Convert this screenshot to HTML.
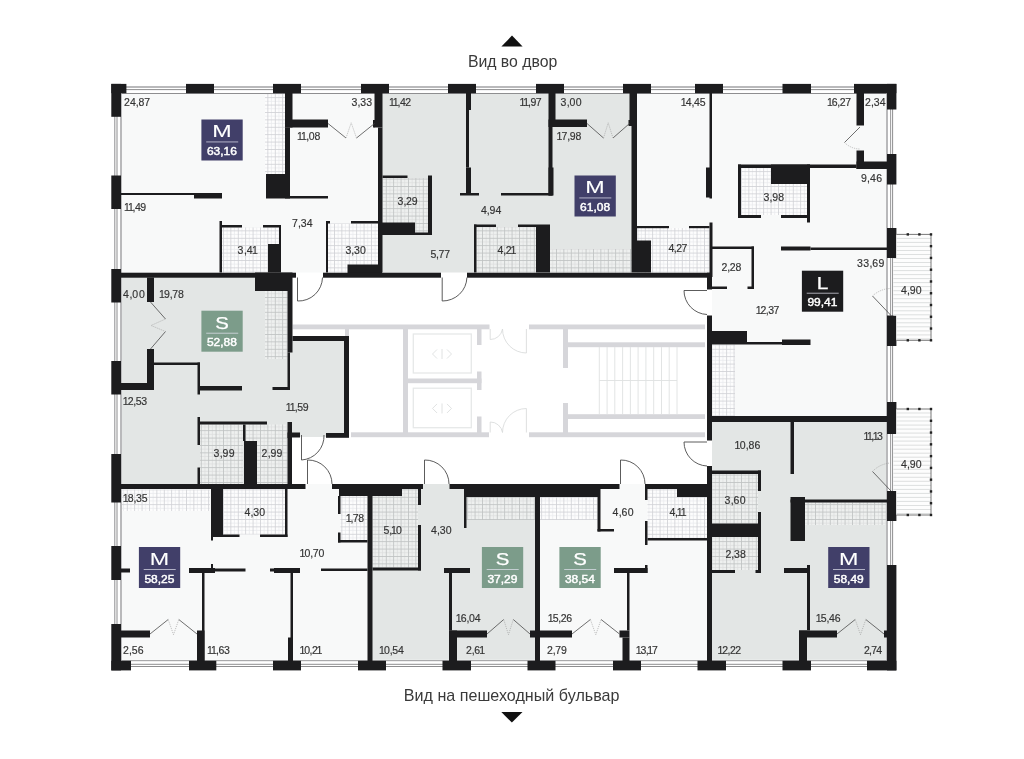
<!DOCTYPE html>
<html><head><meta charset="utf-8"><title>Plan</title>
<style>
html,body{margin:0;padding:0;background:#fff;}
body{width:1024px;height:759px;overflow:hidden;font-family:"Liberation Sans",sans-serif;}
svg{display:block;font-family:"Liberation Sans",sans-serif;}
</style></head><body>
<svg width="1024" height="759" viewBox="0 0 1024 759">
<defs>
<pattern id="tL" width="7.4" height="7.4" patternUnits="userSpaceOnUse" x="1" y="1"><rect width="7.4" height="7.4" fill="#fdfdfd"/><path d="M0,4.1 H7.4 M4.1,0 V7.4" stroke="#e9eaec" stroke-width="0.8" fill="none"/><path d="M0,0.4 H7.4 M0.4,0 V7.4" stroke="#d0d1d6" stroke-width="0.9" fill="none"/></pattern>
<pattern id="tS" width="7.4" height="7.4" patternUnits="userSpaceOnUse" x="1" y="1"><rect width="7.4" height="7.4" fill="#eef0ef"/><path d="M0,4.1 H7.4 M4.1,0 V7.4" stroke="#dcdfde" stroke-width="0.8" fill="none"/><path d="M0,0.4 H7.4 M0.4,0 V7.4" stroke="#bfc2c2" stroke-width="0.9" fill="none"/></pattern>
</defs>
<rect width="1024" height="759" fill="#ffffff"/>
<rect x="121" y="93" width="257" height="179.5" fill="#f8f9f9"/>
<rect x="382" y="93" width="250" height="179.5" fill="#e3e6e5"/>
<rect x="637" y="93" width="250" height="179.5" fill="#f8f9f9"/>
<rect x="712" y="272" width="175" height="144" fill="#f8f9f9"/>
<rect x="121" y="277" width="167" height="207" fill="#e3e6e5"/>
<rect x="287" y="341" width="57" height="93" fill="#e3e6e5"/>
<rect x="300" y="434" width="26" height="3" fill="#e3e6e5"/>
<rect x="121" y="489" width="247" height="172" fill="#f8f9f9"/>
<rect x="307.5" y="484" width="24.5" height="5" fill="#f8f9f9"/>
<rect x="372" y="489" width="163" height="172" fill="#e3e6e5"/>
<rect x="423" y="484" width="27" height="5" fill="#e3e6e5"/>
<rect x="540" y="489" width="167" height="172" fill="#f8f9f9"/>
<rect x="619.5" y="484" width="25.5" height="5" fill="#f8f9f9"/>
<rect x="712" y="422" width="175" height="239" fill="#e3e6e5"/>
<rect x="265" y="93" width="20" height="81" fill="url(#tL)"/>
<rect x="222" y="227.5" width="57" height="45" fill="url(#tL)"/>
<rect x="328" y="223.5" width="50" height="49" fill="url(#tL)"/>
<rect x="382.5" y="178" width="45.5" height="54.5" fill="url(#tS)"/>
<rect x="476.5" y="227" width="59.5" height="45.5" fill="url(#tS)"/>
<rect x="550" y="249" width="81.5" height="23.5" fill="url(#tS)"/>
<rect x="637" y="228" width="72.5" height="44.5" fill="url(#tL)"/>
<rect x="741" y="168" width="66" height="47" fill="url(#tL)"/>
<rect x="712" y="344.5" width="23" height="71.5" fill="url(#tL)"/>
<rect x="265" y="291" width="22.5" height="68" fill="url(#tS)"/>
<rect x="200" y="424.5" width="43" height="59.5" fill="url(#tS)"/>
<rect x="245.5" y="424.5" width="42" height="59.5" fill="url(#tS)"/>
<rect x="122" y="489.5" width="88" height="21.5" fill="url(#tL)"/>
<rect x="223" y="489" width="62" height="45.5" fill="url(#tL)"/>
<rect x="340.5" y="496" width="27" height="44" fill="url(#tL)"/>
<rect x="372.5" y="489" width="45.5" height="78.5" fill="url(#tS)"/>
<rect x="466.5" y="497" width="68.5" height="23" fill="url(#tS)"/>
<rect x="540" y="497" width="57.5" height="23" fill="url(#tL)"/>
<rect x="647.5" y="489" width="59.5" height="49" fill="url(#tL)"/>
<rect x="712" y="474" width="46" height="49.5" fill="url(#tS)"/>
<rect x="712" y="537" width="46" height="33" fill="url(#tS)"/>
<rect x="805" y="502.5" width="81" height="22.5" fill="url(#tS)"/>
<rect x="113" y="85" width="782" height="9" fill="#ffffff"/>
<rect x="113" y="659.8" width="782" height="8.2" fill="#ffffff"/>
<rect x="113" y="85" width="9" height="583" fill="#ffffff"/>
<rect x="886" y="85" width="9" height="583" fill="#ffffff"/>
<rect x="121" y="86.2" width="766" height="1.6" fill="#a9a9ab"/>
<rect x="121" y="89.1" width="766" height="1" fill="#8e8e90"/>
<rect x="121" y="93" width="766" height="1" fill="#8e8e90"/>
<rect x="121" y="660" width="766" height="1.2" fill="#a9a9ab"/>
<rect x="121" y="663.8" width="766" height="1" fill="#8e8e90"/>
<rect x="121" y="666" width="766" height="1" fill="#8e8e90"/>
<rect x="114.3" y="93" width="1" height="568" fill="#8e8e90"/>
<rect x="116.5" y="93" width="1" height="568" fill="#8e8e90"/>
<rect x="120.2" y="93" width="1.6" height="568" fill="#a9a9ab"/>
<rect x="886.2" y="93" width="1.6" height="568" fill="#a9a9ab"/>
<rect x="890.2" y="93" width="0.9" height="568" fill="#8e8e90"/>
<rect x="892.1" y="93" width="1" height="568" fill="#8e8e90"/>
<rect x="292.5" y="324.5" width="197" height="4.8" fill="#d6d6da"/>
<rect x="529" y="324.5" width="176" height="4.8" fill="#d6d6da"/>
<rect x="345" y="329" width="4" height="8" fill="#d6d6da"/>
<rect x="403" y="329" width="5" height="107" fill="#d6d6da"/>
<rect x="408" y="378.5" width="73.5" height="4.7" fill="#d6d6da"/>
<rect x="351" y="432.3" width="138" height="4.9" fill="#d6d6da"/>
<rect x="529" y="432.3" width="176" height="4.9" fill="#d6d6da"/>
<rect x="477" y="329" width="4.5" height="16" fill="#d6d6da"/>
<rect x="477" y="371.5" width="4.5" height="18.5" fill="#d6d6da"/>
<rect x="477" y="416.5" width="4.5" height="16.5" fill="#d6d6da"/>
<rect x="563" y="329" width="5" height="39" fill="#d6d6da"/>
<rect x="568" y="342.3" width="137" height="4.9" fill="#d6d6da"/>
<rect x="563" y="403" width="5" height="30" fill="#d6d6da"/>
<rect x="568" y="414.2" width="137" height="4.8" fill="#d6d6da"/>
<rect x="413.3" y="334" width="58" height="39" fill="#ffffff" stroke="#e6e8e8" stroke-width="1.3"/>
<path d="M437,349.5 l-4.5,4.5 l4.5,4.5 M447,349.5 l4.5,4.5 l-4.5,4.5 M442,349.0 v10" stroke="#dddfdf" stroke-width="0.9" fill="none"/>
<rect x="413.3" y="388.2" width="58" height="39.5" fill="#ffffff" stroke="#e6e8e8" stroke-width="1.3"/>
<path d="M437,403.95 l-4.5,4.5 l4.5,4.5 M447,403.95 l4.5,4.5 l-4.5,4.5 M442,403.45 v10" stroke="#dddfdf" stroke-width="0.9" fill="none"/>
<path d="M599.3,347 V414 M607.1,347 V414 M614.8,347 V414 M622.6,347 V414 M630.4,347 V414 M638.1,347 V414 M645.9,347 V414 M653.7,347 V414 M661.5,347 V414 M669.2,347 V414 M677.0,347 V414 M599.3,380.5 H677" stroke="#dfe1e1" stroke-width="0.9" fill="none"/>
<path d="M490.2,329 V339.5 M490.2,339.5 A12.3,12.3 0 0 0 502.5,329 M526.4,329 V353 M526.4,353 A24,24 0 0 1 502.5,329" stroke="#d6d8d8" stroke-width="0.8" fill="none"/>
<path d="M490.2,432.5 V422 M490.2,422 A12.3,12.3 0 0 1 502.5,432.5 M526.4,432.5 V408.5 M526.4,408.5 A24,24 0 0 0 502.5,432.5" stroke="#d6d8d8" stroke-width="0.8" fill="none"/>
<rect x="111.3" y="83.9" width="15.1" height="9.3" fill="#1c1c1e"/>
<rect x="111.3" y="83.9" width="9.7" height="32.9" fill="#1c1c1e"/>
<rect x="186" y="83.9" width="28" height="9.3" fill="#1c1c1e"/>
<rect x="273" y="83.9" width="28" height="9.3" fill="#1c1c1e"/>
<rect x="361" y="83.9" width="28" height="9.3" fill="#1c1c1e"/>
<rect x="448" y="83.9" width="28" height="9.3" fill="#1c1c1e"/>
<rect x="536" y="83.9" width="28" height="9.3" fill="#1c1c1e"/>
<rect x="623" y="83.9" width="28" height="9.3" fill="#1c1c1e"/>
<rect x="695" y="83.9" width="28" height="9.3" fill="#1c1c1e"/>
<rect x="782.5" y="83.9" width="28.5" height="9.3" fill="#1c1c1e"/>
<rect x="854" y="83.9" width="42.4" height="9.3" fill="#1c1c1e"/>
<rect x="887" y="83.9" width="9.4" height="25.6" fill="#1c1c1e"/>
<rect x="111.3" y="624" width="9.7" height="46.4" fill="#1c1c1e"/>
<rect x="111.3" y="660.8" width="19.7" height="9.6" fill="#1c1c1e"/>
<rect x="189" y="660.8" width="27.3" height="9.6" fill="#1c1c1e"/>
<rect x="273" y="660.8" width="28" height="9.6" fill="#1c1c1e"/>
<rect x="358" y="660.8" width="28" height="9.6" fill="#1c1c1e"/>
<rect x="442.5" y="660.8" width="28.5" height="9.6" fill="#1c1c1e"/>
<rect x="527.5" y="660.8" width="28" height="9.6" fill="#1c1c1e"/>
<rect x="613" y="660.8" width="28" height="9.6" fill="#1c1c1e"/>
<rect x="697.5" y="660.8" width="28.5" height="9.6" fill="#1c1c1e"/>
<rect x="782.5" y="660.8" width="28.5" height="9.6" fill="#1c1c1e"/>
<rect x="867" y="660.8" width="29.4" height="9.6" fill="#1c1c1e"/>
<rect x="887" y="565" width="9.4" height="105.4" fill="#1c1c1e"/>
<rect x="111.3" y="175.5" width="9.7" height="33.5" fill="#1c1c1e"/>
<rect x="111.3" y="269" width="9.7" height="33.5" fill="#1c1c1e"/>
<rect x="111.3" y="361" width="9.7" height="33.5" fill="#1c1c1e"/>
<rect x="111.3" y="454" width="9.7" height="48.5" fill="#1c1c1e"/>
<rect x="111.3" y="546" width="9.7" height="34" fill="#1c1c1e"/>
<rect x="887" y="154" width="9.4" height="30.5" fill="#1c1c1e"/>
<rect x="887" y="228" width="9.4" height="30" fill="#1c1c1e"/>
<rect x="887" y="315.5" width="9.4" height="30.5" fill="#1c1c1e"/>
<rect x="887" y="402" width="9.4" height="32" fill="#1c1c1e"/>
<rect x="887" y="491" width="9.4" height="30" fill="#1c1c1e"/>
<rect x="285" y="93" width="7.5" height="34.5" fill="#1c1c1e"/>
<rect x="285" y="119.5" width="43" height="8" fill="#1c1c1e"/>
<rect x="285" y="127.5" width="5" height="71" fill="#1c1c1e"/>
<rect x="266" y="174" width="24" height="24.5" fill="#1c1c1e"/>
<rect x="290" y="196" width="38" height="2.5" fill="#1c1c1e"/>
<rect x="121" y="193" width="101" height="2" fill="#1c1c1e"/>
<rect x="194" y="193" width="28" height="5.5" fill="#1c1c1e"/>
<rect x="219.5" y="221" width="2.5" height="51.5" fill="#1c1c1e"/>
<rect x="222" y="225" width="20" height="2.5" fill="#1c1c1e"/>
<rect x="263" y="225" width="18" height="2.5" fill="#1c1c1e"/>
<rect x="279" y="225" width="2" height="20" fill="#1c1c1e"/>
<rect x="268" y="244" width="13" height="28.5" fill="#1c1c1e"/>
<rect x="326" y="221" width="2" height="51.5" fill="#1c1c1e"/>
<rect x="326" y="221" width="4" height="2.5" fill="#1c1c1e"/>
<rect x="351" y="221" width="27" height="2.5" fill="#1c1c1e"/>
<rect x="347.5" y="264.5" width="34.5" height="8.5" fill="#1c1c1e"/>
<rect x="374.5" y="93" width="8" height="34.5" fill="#1c1c1e"/>
<rect x="373" y="120" width="2" height="7.5" fill="#1c1c1e"/>
<rect x="378" y="127.5" width="4.5" height="145" fill="#1c1c1e"/>
<rect x="121" y="272.7" width="175" height="5" fill="#1c1c1e"/>
<rect x="323" y="272.7" width="118" height="5" fill="#1c1c1e"/>
<rect x="466" y="93" width="5" height="17" fill="#1c1c1e"/>
<rect x="466" y="110" width="3" height="57.5" fill="#1c1c1e"/>
<rect x="466" y="167.5" width="5" height="27.5" fill="#1c1c1e"/>
<rect x="460" y="193" width="19" height="2.5" fill="#1c1c1e"/>
<rect x="501" y="193" width="51.5" height="2.5" fill="#1c1c1e"/>
<rect x="548.5" y="93" width="7" height="34" fill="#1c1c1e"/>
<rect x="548.5" y="119.5" width="38.5" height="7.5" fill="#1c1c1e"/>
<rect x="548.5" y="127" width="4" height="68.5" fill="#1c1c1e"/>
<rect x="548.5" y="167.5" width="5" height="28" fill="#1c1c1e"/>
<rect x="382.5" y="175.5" width="25" height="2.5" fill="#1c1c1e"/>
<rect x="428" y="175.5" width="4" height="59.5" fill="#1c1c1e"/>
<rect x="415" y="232.5" width="17" height="2.5" fill="#1c1c1e"/>
<rect x="379.5" y="222.5" width="35.5" height="12.5" fill="#1c1c1e"/>
<rect x="474" y="224.5" width="2.5" height="48" fill="#1c1c1e"/>
<rect x="474" y="224.5" width="22" height="2.5" fill="#1c1c1e"/>
<rect x="518" y="224.5" width="18" height="2.5" fill="#1c1c1e"/>
<rect x="536" y="224.5" width="14" height="48" fill="#1c1c1e"/>
<rect x="467" y="272.7" width="240" height="5" fill="#1c1c1e"/>
<rect x="629.5" y="93" width="7.5" height="33" fill="#1c1c1e"/>
<rect x="628.5" y="120" width="1.5" height="6" fill="#1c1c1e"/>
<rect x="631.5" y="126" width="5.5" height="146.5" fill="#1c1c1e"/>
<rect x="637" y="226" width="32" height="2.2" fill="#1c1c1e"/>
<rect x="689" y="226" width="20.5" height="2.2" fill="#1c1c1e"/>
<rect x="637" y="240.5" width="14" height="32" fill="#1c1c1e"/>
<rect x="709.5" y="93" width="2.5" height="105.5" fill="#1c1c1e"/>
<rect x="706" y="167.5" width="6" height="30" fill="#1c1c1e"/>
<rect x="709.5" y="222.5" width="3" height="54.5" fill="#1c1c1e"/>
<rect x="707" y="272.5" width="5" height="17" fill="#1c1c1e"/>
<rect x="712" y="246.5" width="42" height="2.5" fill="#1c1c1e"/>
<rect x="751.5" y="246.5" width="2.5" height="42.5" fill="#1c1c1e"/>
<rect x="712" y="286.5" width="15" height="2.5" fill="#1c1c1e"/>
<rect x="747.5" y="286.5" width="6.5" height="2.5" fill="#1c1c1e"/>
<rect x="738" y="164.5" width="3" height="53.5" fill="#1c1c1e"/>
<rect x="738" y="164.5" width="118.5" height="3.5" fill="#1c1c1e"/>
<rect x="771" y="164.5" width="39" height="19.5" fill="#1c1c1e"/>
<rect x="807" y="164.5" width="3" height="58" fill="#1c1c1e"/>
<rect x="738" y="215" width="23" height="3" fill="#1c1c1e"/>
<rect x="781" y="215" width="29" height="3" fill="#1c1c1e"/>
<rect x="856.5" y="93" width="7.5" height="32.5" fill="#1c1c1e"/>
<rect x="856.5" y="150.5" width="7.5" height="18.5" fill="#1c1c1e"/>
<rect x="856.5" y="161.5" width="39.5" height="7.5" fill="#1c1c1e"/>
<rect x="781" y="246.5" width="29.5" height="4" fill="#1c1c1e"/>
<rect x="810.5" y="247.5" width="76.5" height="2.5" fill="#1c1c1e"/>
<rect x="707" y="315.5" width="5" height="125" fill="#1c1c1e"/>
<rect x="707" y="466" width="5" height="195" fill="#1c1c1e"/>
<rect x="712" y="331" width="35" height="13.5" fill="#1c1c1e"/>
<rect x="747" y="342" width="35.5" height="2.5" fill="#1c1c1e"/>
<rect x="782" y="339.5" width="28.5" height="5.5" fill="#1c1c1e"/>
<rect x="712" y="416" width="175" height="6" fill="#1c1c1e"/>
<rect x="147" y="277.5" width="7" height="24.5" fill="#1c1c1e"/>
<rect x="147" y="349" width="7" height="41" fill="#1c1c1e"/>
<rect x="112" y="383" width="42" height="7" fill="#1c1c1e"/>
<rect x="255" y="272.5" width="37.5" height="18.5" fill="#1c1c1e"/>
<rect x="287.5" y="291" width="5" height="61.5" fill="#1c1c1e"/>
<rect x="287.5" y="352.5" width="2.5" height="37.5" fill="#1c1c1e"/>
<rect x="272.5" y="387" width="17.5" height="3" fill="#1c1c1e"/>
<rect x="292.5" y="336" width="56.5" height="5" fill="#1c1c1e"/>
<rect x="344" y="336" width="5" height="101" fill="#1c1c1e"/>
<rect x="326" y="433" width="23" height="4.8" fill="#1c1c1e"/>
<rect x="154" y="362.5" width="46" height="2.5" fill="#1c1c1e"/>
<rect x="197.5" y="362.5" width="2.5" height="32" fill="#1c1c1e"/>
<rect x="200" y="386" width="42" height="4.5" fill="#1c1c1e"/>
<rect x="197.5" y="417" width="2.5" height="28" fill="#1c1c1e"/>
<rect x="197.5" y="467.5" width="2.5" height="16.5" fill="#1c1c1e"/>
<rect x="200" y="421.5" width="67" height="3" fill="#1c1c1e"/>
<rect x="243" y="424.5" width="2.5" height="16.5" fill="#1c1c1e"/>
<rect x="244" y="441" width="13" height="43" fill="#1c1c1e"/>
<rect x="287.5" y="422" width="4.5" height="62" fill="#1c1c1e"/>
<rect x="287.5" y="432.5" width="12.5" height="5.5" fill="#1c1c1e"/>
<rect x="121" y="484" width="184.5" height="5" fill="#1c1c1e"/>
<rect x="211" y="489" width="12" height="48" fill="#1c1c1e"/>
<rect x="211" y="537" width="2" height="3.5" fill="#1c1c1e"/>
<rect x="285" y="489" width="2.5" height="48" fill="#1c1c1e"/>
<rect x="223" y="534.5" width="16.5" height="2.5" fill="#1c1c1e"/>
<rect x="260" y="534.5" width="27.5" height="2.5" fill="#1c1c1e"/>
<rect x="338" y="496" width="2.5" height="18" fill="#1c1c1e"/>
<rect x="338" y="532.5" width="2.5" height="10" fill="#1c1c1e"/>
<rect x="338" y="540" width="29.5" height="2.5" fill="#1c1c1e"/>
<rect x="121" y="568.5" width="9" height="4" fill="#1c1c1e"/>
<rect x="189" y="568" width="26" height="5" fill="#1c1c1e"/>
<rect x="215" y="568.5" width="30.5" height="3" fill="#1c1c1e"/>
<rect x="270" y="568.5" width="30" height="3" fill="#1c1c1e"/>
<rect x="274" y="568" width="26" height="5" fill="#1c1c1e"/>
<rect x="321" y="568.5" width="46.5" height="2.5" fill="#1c1c1e"/>
<rect x="211" y="564" width="2" height="5" fill="#1c1c1e"/>
<rect x="202" y="571" width="2.5" height="90" fill="#1c1c1e"/>
<rect x="197" y="630.5" width="7.5" height="30.5" fill="#1c1c1e"/>
<rect x="121" y="630.5" width="29" height="7" fill="#1c1c1e"/>
<rect x="290.5" y="571" width="2.5" height="90" fill="#1c1c1e"/>
<rect x="288" y="637.5" width="5" height="23.5" fill="#1c1c1e"/>
<rect x="367.5" y="496" width="5" height="165" fill="#1c1c1e"/>
<rect x="332" y="484" width="91" height="5" fill="#1c1c1e"/>
<rect x="339" y="489" width="63" height="7" fill="#1c1c1e"/>
<rect x="418" y="489" width="3" height="16" fill="#1c1c1e"/>
<rect x="418" y="525" width="3" height="45.5" fill="#1c1c1e"/>
<rect x="372.5" y="567.5" width="48.5" height="3" fill="#1c1c1e"/>
<rect x="464" y="497" width="2.5" height="31" fill="#1c1c1e"/>
<rect x="449.5" y="484" width="150.5" height="5" fill="#1c1c1e"/>
<rect x="464" y="484" width="136" height="13" fill="#1c1c1e"/>
<rect x="535" y="497" width="5" height="164" fill="#1c1c1e"/>
<rect x="444" y="568" width="26" height="5" fill="#1c1c1e"/>
<rect x="449" y="573" width="3" height="57.5" fill="#1c1c1e"/>
<rect x="449" y="630.5" width="8" height="30.5" fill="#1c1c1e"/>
<rect x="449" y="630.5" width="38" height="7" fill="#1c1c1e"/>
<rect x="530" y="630.5" width="42" height="7" fill="#1c1c1e"/>
<rect x="597.5" y="489" width="3" height="42.5" fill="#1c1c1e"/>
<rect x="597.5" y="529" width="16.5" height="2.5" fill="#1c1c1e"/>
<rect x="600" y="484" width="19.5" height="5" fill="#1c1c1e"/>
<rect x="645" y="484" width="62" height="5" fill="#1c1c1e"/>
<rect x="677" y="484" width="30" height="13" fill="#1c1c1e"/>
<rect x="645" y="489" width="2.5" height="11" fill="#1c1c1e"/>
<rect x="645" y="521" width="2.5" height="24" fill="#1c1c1e"/>
<rect x="645" y="565" width="2.5" height="8" fill="#1c1c1e"/>
<rect x="647.5" y="538" width="59.5" height="2.5" fill="#1c1c1e"/>
<rect x="614" y="568" width="33.5" height="5" fill="#1c1c1e"/>
<rect x="627" y="573" width="2.5" height="57.5" fill="#1c1c1e"/>
<rect x="619.5" y="630.5" width="10" height="7" fill="#1c1c1e"/>
<rect x="622.5" y="637.5" width="7" height="23.5" fill="#1c1c1e"/>
<rect x="790.5" y="422" width="3.5" height="52" fill="#1c1c1e"/>
<rect x="712" y="470.5" width="49" height="3.5" fill="#1c1c1e"/>
<rect x="758" y="470.5" width="3" height="20.5" fill="#1c1c1e"/>
<rect x="758" y="512" width="3" height="61" fill="#1c1c1e"/>
<rect x="712" y="523.5" width="48" height="13.5" fill="#1c1c1e"/>
<rect x="712" y="570" width="23" height="3" fill="#1c1c1e"/>
<rect x="755.5" y="570" width="5.5" height="3" fill="#1c1c1e"/>
<rect x="790.5" y="497" width="14.5" height="44" fill="#1c1c1e"/>
<rect x="790.5" y="499.5" width="96.5" height="3" fill="#1c1c1e"/>
<rect x="784" y="568" width="26" height="5" fill="#1c1c1e"/>
<rect x="807" y="565" width="3" height="65.5" fill="#1c1c1e"/>
<rect x="799" y="630.5" width="8" height="30.5" fill="#1c1c1e"/>
<rect x="799" y="630.5" width="38" height="7" fill="#1c1c1e"/>
<rect x="884" y="630.5" width="3" height="7" fill="#1c1c1e"/>
<rect x="292" y="437.5" width="15.5" height="46.5" fill="#ffffff"/>
<path d="M297.5,277.5 V301 M297.5,301 A24,24 0 0 0 322.5,277.5" stroke="#4a4a4a" stroke-width="0.9" fill="none"/>
<path d="M442.2,277.5 V301 M442.2,301 A24.5,24 0 0 0 466.9,277.5" stroke="#4a4a4a" stroke-width="0.9" fill="none"/>
<path d="M707,290.5 H684 M684,290.5 A24,24 0 0 0 707,314.5" stroke="#4a4a4a" stroke-width="0.9" fill="none"/>
<path d="M707,442 H684 M684,442 A24,24 0 0 0 707,466" stroke="#4a4a4a" stroke-width="0.9" fill="none"/>
<path d="M301.5,435 V460 M301.5,460 A24,24 0 0 0 324,435" stroke="#4a4a4a" stroke-width="0.9" fill="none"/>
<path d="M307.5,484 V460 M307.5,460 A24,24 0 0 1 332,484" stroke="#4a4a4a" stroke-width="0.9" fill="none"/>
<path d="M424.5,484 V460 M424.5,460 A24,24 0 0 1 449,484" stroke="#4a4a4a" stroke-width="0.9" fill="none"/>
<path d="M620.5,484 V460 M620.5,460 A24,24 0 0 1 645,484" stroke="#4a4a4a" stroke-width="0.9" fill="none"/>
<path d="M328,123.5 L346.0,138.0 M374.5,123.5 L356.5,138.0" stroke="#4a4a4a" stroke-width="0.8" fill="none"/>
<path d="M346.0,138.0 L351.2,122.8 L356.5,138.0" stroke="#9a9a9a" stroke-width="0.6" fill="none" stroke-dasharray="1.2,1"/>
<path d="M587,123.5 L603.5,138.0 M629.5,123.5 L613.0,138.0" stroke="#4a4a4a" stroke-width="0.8" fill="none"/>
<path d="M603.5,138.0 L608.2,122.8 L613.0,138.0" stroke="#9a9a9a" stroke-width="0.6" fill="none" stroke-dasharray="1.2,1"/>
<path d="M150,634 L168.2,619.5 M197,634 L178.8,619.5" stroke="#4a4a4a" stroke-width="0.8" fill="none"/>
<path d="M168.2,619.5 L173.5,634.7 L178.8,619.5" stroke="#9a9a9a" stroke-width="0.6" fill="none" stroke-dasharray="1.2,1"/>
<path d="M487,634 L503.7,619.5 M530,634 L513.3,619.5" stroke="#4a4a4a" stroke-width="0.8" fill="none"/>
<path d="M503.7,619.5 L508.5,634.7 L513.3,619.5" stroke="#9a9a9a" stroke-width="0.6" fill="none" stroke-dasharray="1.2,1"/>
<path d="M572,634 L590.4,619.5 M619.5,634 L601.1,619.5" stroke="#4a4a4a" stroke-width="0.8" fill="none"/>
<path d="M590.4,619.5 L595.8,634.7 L601.1,619.5" stroke="#9a9a9a" stroke-width="0.6" fill="none" stroke-dasharray="1.2,1"/>
<path d="M837,634 L855.2,619.5 M884,634 L865.8,619.5" stroke="#4a4a4a" stroke-width="0.8" fill="none"/>
<path d="M855.2,619.5 L860.5,634.7 L865.8,619.5" stroke="#9a9a9a" stroke-width="0.6" fill="none" stroke-dasharray="1.2,1"/>
<path d="M150.5,302 L165.5,319 M150.5,349 L165.5,331.5" stroke="#4a4a4a" stroke-width="0.8" fill="none"/>
<path d="M165.5,319 L151,325.5 L165.5,331.5" stroke="#9a9a9a" stroke-width="0.6" fill="none" stroke-dasharray="1.2,1"/>
<path d="M860,127 L844.5,142.5" stroke="#4a4a4a" stroke-width="0.8" fill="none"/>
<path d="M844.5,142.5 A22,22 0 0 0 860,149" stroke="#9a9a9a" stroke-width="0.6" fill="none" stroke-dasharray="1.2,1"/>
<path d="M891,315.5 L872.5,296" stroke="#4a4a4a" stroke-width="0.8" fill="none"/>
<path d="M872.5,296 A27,27 0 0 1 891,288.5" stroke="#9a9a9a" stroke-width="0.6" fill="none" stroke-dasharray="1.2,1"/>
<path d="M891,491 L872.5,471.5" stroke="#4a4a4a" stroke-width="0.8" fill="none"/>
<path d="M872.5,471.5 A27,27 0 0 1 891,463" stroke="#9a9a9a" stroke-width="0.6" fill="none" stroke-dasharray="1.2,1"/>
<rect x="896.3" y="234.4" width="34.7" height="105.9" fill="#fdfdfd"/>
<rect x="893.4" y="258" width="2.9" height="57.5" fill="#fdfdfd"/>
<path d="M896.3,238.4 H931 M896.3,242.4 H931 M896.3,246.4 H931 M896.3,250.5 H931 M896.3,254.5 H931 M893.4,258.5 H931 M893.4,262.5 H931 M893.4,266.5 H931 M893.4,270.6 H931 M893.4,274.6 H931 M893.4,278.6 H931 M893.4,282.6 H931 M893.4,286.6 H931 M893.4,290.7 H931 M893.4,294.7 H931 M893.4,298.7 H931 M893.4,302.7 H931 M893.4,306.7 H931 M893.4,310.8 H931 M893.4,314.8 H931 M896.3,318.8 H931 M896.3,322.8 H931 M896.3,326.8 H931 M896.3,330.9 H931 M896.3,334.9 H931 M896.3,338.9 H931 " stroke="#d0d2d2" stroke-width="0.7" fill="none"/>
<path d="M896.3,234.4 H931 V340.3 H896.3" stroke="#555" stroke-width="0.8" fill="none"/>
<rect x="929.8" y="233.2" width="2.4" height="2.4" fill="#222"/>
<rect x="929.8" y="244.967" width="2.4" height="2.4" fill="#222"/>
<rect x="929.8" y="256.733" width="2.4" height="2.4" fill="#222"/>
<rect x="929.8" y="268.5" width="2.4" height="2.4" fill="#222"/>
<rect x="929.8" y="280.267" width="2.4" height="2.4" fill="#222"/>
<rect x="929.8" y="292.033" width="2.4" height="2.4" fill="#222"/>
<rect x="929.8" y="303.8" width="2.4" height="2.4" fill="#222"/>
<rect x="929.8" y="315.567" width="2.4" height="2.4" fill="#222"/>
<rect x="929.8" y="327.333" width="2.4" height="2.4" fill="#222"/>
<rect x="929.8" y="339.1" width="2.4" height="2.4" fill="#222"/>
<rect x="906.6" y="233.2" width="2.4" height="2.4" fill="#222"/>
<rect x="906.6" y="339.1" width="2.4" height="2.4" fill="#222"/>
<rect x="918.2" y="233.2" width="2.4" height="2.4" fill="#222"/>
<rect x="918.2" y="339.1" width="2.4" height="2.4" fill="#222"/>
<rect x="896.3" y="409" width="34.7" height="106" fill="#fdfdfd"/>
<rect x="893.4" y="434" width="2.9" height="57" fill="#fdfdfd"/>
<path d="M896.3,413.0 H931 M896.3,417.0 H931 M896.3,421.0 H931 M896.3,425.1 H931 M896.3,429.1 H931 M896.3,433.1 H931 M893.4,437.1 H931 M893.4,441.1 H931 M893.4,445.2 H931 M893.4,449.2 H931 M893.4,453.2 H931 M893.4,457.2 H931 M893.4,461.2 H931 M893.4,465.3 H931 M893.4,469.3 H931 M893.4,473.3 H931 M893.4,477.3 H931 M893.4,481.3 H931 M893.4,485.4 H931 M893.4,489.4 H931 M896.3,493.4 H931 M896.3,497.4 H931 M896.3,501.4 H931 M896.3,505.5 H931 M896.3,509.5 H931 M896.3,513.5 H931 " stroke="#d0d2d2" stroke-width="0.7" fill="none"/>
<path d="M896.3,409 H931 V515 H896.3" stroke="#555" stroke-width="0.8" fill="none"/>
<rect x="929.8" y="407.8" width="2.4" height="2.4" fill="#222"/>
<rect x="929.8" y="419.578" width="2.4" height="2.4" fill="#222"/>
<rect x="929.8" y="431.356" width="2.4" height="2.4" fill="#222"/>
<rect x="929.8" y="443.133" width="2.4" height="2.4" fill="#222"/>
<rect x="929.8" y="454.911" width="2.4" height="2.4" fill="#222"/>
<rect x="929.8" y="466.689" width="2.4" height="2.4" fill="#222"/>
<rect x="929.8" y="478.467" width="2.4" height="2.4" fill="#222"/>
<rect x="929.8" y="490.244" width="2.4" height="2.4" fill="#222"/>
<rect x="929.8" y="502.022" width="2.4" height="2.4" fill="#222"/>
<rect x="929.8" y="513.8" width="2.4" height="2.4" fill="#222"/>
<rect x="906.6" y="407.8" width="2.4" height="2.4" fill="#222"/>
<rect x="906.6" y="513.8" width="2.4" height="2.4" fill="#222"/>
<rect x="918.2" y="407.8" width="2.4" height="2.4" fill="#222"/>
<rect x="918.2" y="513.8" width="2.4" height="2.4" fill="#222"/>
<rect x="201.4" y="119.5" width="41.3" height="41" fill="#413f69"/>
<rect x="206.2" y="141.6" width="32" height="0.7" fill="#e4e4f0"/>
<rect x="574.5" y="175.5" width="41.3" height="41" fill="#413f69"/>
<rect x="579.3" y="197.6" width="32" height="0.7" fill="#e4e4f0"/>
<rect x="801.9" y="270.7" width="41.3" height="41" fill="#1c1c1e"/>
<rect x="806.7" y="292.8" width="32" height="0.7" fill="#e4e4f0"/>
<rect x="201.4" y="310.7" width="41.3" height="41" fill="#7c9c8a"/>
<rect x="206.2" y="332.8" width="32" height="0.7" fill="#e4e4f0"/>
<rect x="138.9" y="547" width="41.3" height="41" fill="#413f69"/>
<rect x="143.7" y="569.1" width="32" height="0.7" fill="#e4e4f0"/>
<rect x="481.9" y="547" width="41.3" height="41" fill="#7c9c8a"/>
<rect x="486.7" y="569.1" width="32" height="0.7" fill="#e4e4f0"/>
<rect x="559.4" y="547" width="41.3" height="41" fill="#7c9c8a"/>
<rect x="564.2" y="569.1" width="32" height="0.7" fill="#e4e4f0"/>
<rect x="828.2" y="547" width="41.3" height="41" fill="#413f69"/>
<rect x="833" y="569.1" width="32" height="0.7" fill="#e4e4f0"/>
<path d="M501.4,46.4 L522.6,46.4 L512,35.6 Z" fill="#111"/>
<path d="M501.3,712 L522.5,712 L511.9,722.6 Z" fill="#111"/>
<g style="filter:grayscale(1)">
<text x="212.25" y="137.3" font-size="16.2" fill="#fff" stroke="#fff" stroke-width="0.08" textLength="19.4" lengthAdjust="spacingAndGlyphs">M</text>
<text x="221.95" y="155.2" font-size="11.6" fill="#fff" stroke="#fff" stroke-width="0.45" text-anchor="middle" textLength="30" lengthAdjust="spacingAndGlyphs">63,16</text>
<text x="585.35" y="193.3" font-size="16.2" fill="#fff" stroke="#fff" stroke-width="0.08" textLength="19.4" lengthAdjust="spacingAndGlyphs">M</text>
<text x="595.05" y="211.2" font-size="11.6" fill="#fff" stroke="#fff" stroke-width="0.45" text-anchor="middle" textLength="30" lengthAdjust="spacingAndGlyphs">61,08</text>
<text x="816.65" y="288.5" font-size="16.2" fill="#fff" stroke="#fff" stroke-width="0.25" textLength="11.6" lengthAdjust="spacingAndGlyphs">L</text>
<text x="822.45" y="306.4" font-size="11.6" fill="#fff" stroke="#fff" stroke-width="0.45" text-anchor="middle" textLength="30" lengthAdjust="spacingAndGlyphs">99,41</text>
<text x="215.15" y="328.5" font-size="16.2" fill="#fff" stroke="#fff" stroke-width="0.25" textLength="13.6" lengthAdjust="spacingAndGlyphs">S</text>
<text x="221.95" y="346.4" font-size="11.6" fill="#fff" stroke="#fff" stroke-width="0.45" text-anchor="middle" textLength="30" lengthAdjust="spacingAndGlyphs">52,88</text>
<text x="149.75" y="564.8" font-size="16.2" fill="#fff" stroke="#fff" stroke-width="0.08" textLength="19.4" lengthAdjust="spacingAndGlyphs">M</text>
<text x="159.45" y="582.7" font-size="11.6" fill="#fff" stroke="#fff" stroke-width="0.45" text-anchor="middle" textLength="30" lengthAdjust="spacingAndGlyphs">58,25</text>
<text x="495.65" y="564.8" font-size="16.2" fill="#fff" stroke="#fff" stroke-width="0.25" textLength="13.6" lengthAdjust="spacingAndGlyphs">S</text>
<text x="502.45" y="582.7" font-size="11.6" fill="#fff" stroke="#fff" stroke-width="0.45" text-anchor="middle" textLength="30" lengthAdjust="spacingAndGlyphs">37,29</text>
<text x="573.15" y="564.8" font-size="16.2" fill="#fff" stroke="#fff" stroke-width="0.25" textLength="13.6" lengthAdjust="spacingAndGlyphs">S</text>
<text x="579.95" y="582.7" font-size="11.6" fill="#fff" stroke="#fff" stroke-width="0.45" text-anchor="middle" textLength="30" lengthAdjust="spacingAndGlyphs">38,54</text>
<text x="839.05" y="564.8" font-size="16.2" fill="#fff" stroke="#fff" stroke-width="0.08" textLength="19.4" lengthAdjust="spacingAndGlyphs">M</text>
<text x="848.75" y="582.7" font-size="11.6" fill="#fff" stroke="#fff" stroke-width="0.45" text-anchor="middle" textLength="30" lengthAdjust="spacingAndGlyphs">58,49</text>
<text transform="scale(0.9,1)" x="137.89 144.38 150.88 153.79 160.28" y="106.3" font-size="11.7" fill="#333" stroke="#333" stroke-width="0.18">24,87</text>
<text transform="scale(0.9,1)" x="137.81 142.09 147.33 149.97 155.88" y="210.8" font-size="11.7" fill="#333" stroke="#333" stroke-width="0.18">11,49</text>
<text transform="scale(0.9,1)" x="329.96 334.55 340.17 343.01 349.34" y="140.5" font-size="11.7" fill="#333" stroke="#333" stroke-width="0.18">11,08</text>
<text transform="scale(0.9,1)" x="324.56 331.16 334.12 340.73" y="226.8" font-size="11.7" fill="#333" stroke="#333" stroke-width="0.18">7,34</text>
<text transform="scale(0.9,1)" x="264.00 271.00 274.14 280.00" y="254.3" font-size="11.7" fill="#333" stroke="#333" stroke-width="0.18">3,41</text>
<text transform="scale(0.9,1)" x="390.67 397.27 400.23 406.84" y="106.3" font-size="11.7" fill="#333" stroke="#333" stroke-width="0.18">3,33</text>
<text transform="scale(0.9,1)" x="432.26 436.53 441.77 444.42 450.32" y="106.3" font-size="11.7" fill="#333" stroke="#333" stroke-width="0.18">11,42</text>
<text transform="scale(0.9,1)" x="577.26 581.53 586.77 589.42 595.32" y="106.3" font-size="11.7" fill="#333" stroke="#333" stroke-width="0.18">11,97</text>
<text transform="scale(0.9,1)" x="441.78 448.22 451.11 457.56" y="205.5" font-size="11.7" fill="#333" stroke="#333" stroke-width="0.18">3,29</text>
<text transform="scale(0.9,1)" x="534.33 540.94 543.90 550.51" y="213.8" font-size="11.7" fill="#333" stroke="#333" stroke-width="0.18">4,94</text>
<text transform="scale(0.9,1)" x="383.78 390.38 393.34 399.95" y="253.8" font-size="11.7" fill="#333" stroke="#333" stroke-width="0.18">3,30</text>
<text transform="scale(0.9,1)" x="478.22 484.51 487.32 493.61" y="258" font-size="11.7" fill="#333" stroke="#333" stroke-width="0.18">5,77</text>
<text transform="scale(0.9,1)" x="552.89 559.19 562.02 567.29" y="254.3" font-size="11.7" fill="#333" stroke="#333" stroke-width="0.18">4,21</text>
<text transform="scale(0.9,1)" x="622.67 629.59 632.70 639.63" y="106.3" font-size="11.7" fill="#333" stroke="#333" stroke-width="0.18">3,00</text>
<text transform="scale(0.9,1)" x="618.30 623.90 630.21 633.04 639.36" y="140.5" font-size="11.7" fill="#333" stroke="#333" stroke-width="0.18">17,98</text>
<text transform="scale(0.9,1)" x="756.41 762.01 768.33 771.16 777.47" y="106.3" font-size="11.7" fill="#333" stroke="#333" stroke-width="0.18">14,45</text>
<text transform="scale(0.9,1)" x="742.67 748.63 751.30 757.26" y="252" font-size="11.7" fill="#333" stroke="#333" stroke-width="0.18">4,27</text>
<text transform="scale(0.9,1)" x="918.90 924.27 930.31 933.02 939.07" y="106.3" font-size="11.7" fill="#333" stroke="#333" stroke-width="0.18">16,27</text>
<text transform="scale(0.9,1)" x="961.22 967.83 970.79 977.39" y="106.3" font-size="11.7" fill="#333" stroke="#333" stroke-width="0.18">2,34</text>
<text transform="scale(0.9,1)" x="956.56 963.48 966.59 973.52" y="182.5" font-size="11.7" fill="#333" stroke="#333" stroke-width="0.18">9,46</text>
<text transform="scale(0.9,1)" x="848.22 854.99 858.02 864.79" y="201.3" font-size="11.7" fill="#333" stroke="#333" stroke-width="0.18">3,98</text>
<text transform="scale(0.9,1)" x="801.78 808.06 810.88 817.16" y="271.3" font-size="11.7" fill="#333" stroke="#333" stroke-width="0.18">2,28</text>
<text transform="scale(0.9,1)" x="952.33 959.20 966.07 969.15 976.02" y="267" font-size="11.7" fill="#333" stroke="#333" stroke-width="0.18">33,69</text>
<text transform="scale(0.9,1)" x="1001.00 1007.77 1010.80 1017.57" y="293.8" font-size="11.7" fill="#333" stroke="#333" stroke-width="0.18">4,90</text>
<text transform="scale(0.9,1)" x="839.81 845.06 850.97 853.62 859.53" y="313.8" font-size="11.7" fill="#333" stroke="#333" stroke-width="0.18">12,37</text>
<text transform="scale(0.9,1)" x="136.56 143.81 147.06 154.31" y="298.3" font-size="11.7" fill="#333" stroke="#333" stroke-width="0.18">4,00</text>
<text transform="scale(0.9,1)" x="176.63 182.24 188.55 191.38 197.69" y="298.3" font-size="11.7" fill="#333" stroke="#333" stroke-width="0.18">19,78</text>
<text transform="scale(0.9,1)" x="136.43 141.92 148.10 150.87 157.04" y="405.5" font-size="11.7" fill="#333" stroke="#333" stroke-width="0.18">12,53</text>
<text transform="scale(0.9,1)" x="317.54 322.02 327.52 330.29 336.48" y="410.8" font-size="11.7" fill="#333" stroke="#333" stroke-width="0.18">11,59</text>
<text transform="scale(0.9,1)" x="237.11 244.04 247.14 254.07" y="457" font-size="11.7" fill="#333" stroke="#333" stroke-width="0.18">3,99</text>
<text transform="scale(0.9,1)" x="290.67 297.43 300.47 307.23" y="457" font-size="11.7" fill="#333" stroke="#333" stroke-width="0.18">2,99</text>
<text transform="scale(0.9,1)" x="136.41 142.01 148.33 151.16 157.47" y="502" font-size="11.7" fill="#333" stroke="#333" stroke-width="0.18">18,35</text>
<text transform="scale(0.9,1)" x="271.78 278.38 281.34 287.95" y="515.8" font-size="11.7" fill="#333" stroke="#333" stroke-width="0.18">4,30</text>
<text transform="scale(0.9,1)" x="332.74 338.35 344.66 347.49 353.80" y="556.8" font-size="11.7" fill="#333" stroke="#333" stroke-width="0.18">10,70</text>
<text transform="scale(0.9,1)" x="384.26 389.46 392.08 397.93" y="521.8" font-size="11.7" fill="#333" stroke="#333" stroke-width="0.18">1,78</text>
<text transform="scale(0.9,1)" x="426.00 432.48 434.32 440.08" y="533.8" font-size="11.7" fill="#333" stroke="#333" stroke-width="0.18">5,10</text>
<text transform="scale(0.9,1)" x="478.78 485.54 488.58 495.34" y="533.8" font-size="11.7" fill="#333" stroke="#333" stroke-width="0.18">4,30</text>
<text transform="scale(0.9,1)" x="680.67 687.59 690.70 697.63" y="515.8" font-size="11.7" fill="#333" stroke="#333" stroke-width="0.18">4,60</text>
<text transform="scale(0.9,1)" x="744.00 750.14 751.88 756.33" y="515.8" font-size="11.7" fill="#333" stroke="#333" stroke-width="0.18">4,11</text>
<text transform="scale(0.9,1)" x="805.11 812.04 815.14 822.07" y="503.8" font-size="11.7" fill="#333" stroke="#333" stroke-width="0.18">3,60</text>
<text transform="scale(0.9,1)" x="806.00 812.61 815.57 822.17" y="558.3" font-size="11.7" fill="#333" stroke="#333" stroke-width="0.18">2,38</text>
<text transform="scale(0.9,1)" x="816.01 821.97 828.68 831.69 838.40" y="449.3" font-size="11.7" fill="#333" stroke="#333" stroke-width="0.18">10,86</text>
<text transform="scale(0.9,1)" x="959.33 963.27 968.09 969.63 974.46" y="440" font-size="11.7" fill="#333" stroke="#333" stroke-width="0.18">11,13</text>
<text transform="scale(0.9,1)" x="1001.00 1007.77 1010.80 1017.57" y="468.3" font-size="11.7" fill="#333" stroke="#333" stroke-width="0.18">4,90</text>
<text transform="scale(0.9,1)" x="136.56 143.32 146.36 153.12" y="654.3" font-size="11.7" fill="#333" stroke="#333" stroke-width="0.18">2,56</text>
<text transform="scale(0.9,1)" x="229.99 234.47 239.96 242.74 248.92" y="654.3" font-size="11.7" fill="#333" stroke="#333" stroke-width="0.18">11,63</text>
<text transform="scale(0.9,1)" x="332.81 338.05 343.95 346.60 351.54" y="654.3" font-size="11.7" fill="#333" stroke="#333" stroke-width="0.18">10,21</text>
<text transform="scale(0.9,1)" x="421.08 426.68 432.99 435.82 442.13" y="654.3" font-size="11.7" fill="#333" stroke="#333" stroke-width="0.18">10,54</text>
<text transform="scale(0.9,1)" x="506.41 512.01 518.33 521.16 527.47" y="622.5" font-size="11.7" fill="#333" stroke="#333" stroke-width="0.18">16,04</text>
<text transform="scale(0.9,1)" x="517.67 524.15 527.05 532.47" y="654.3" font-size="11.7" fill="#333" stroke="#333" stroke-width="0.18">2,61</text>
<text transform="scale(0.9,1)" x="608.65 614.14 620.32 623.09 629.27" y="622.5" font-size="11.7" fill="#333" stroke="#333" stroke-width="0.18">15,26</text>
<text transform="scale(0.9,1)" x="607.89 614.17 616.99 623.27" y="654.3" font-size="11.7" fill="#333" stroke="#333" stroke-width="0.18">2,79</text>
<text transform="scale(0.9,1)" x="706.48 711.72 717.62 719.30 724.54" y="654.3" font-size="11.7" fill="#333" stroke="#333" stroke-width="0.18">13,17</text>
<text transform="scale(0.9,1)" x="797.25 802.50 808.42 811.07 816.98" y="654.3" font-size="11.7" fill="#333" stroke="#333" stroke-width="0.18">12,22</text>
<text transform="scale(0.9,1)" x="906.41 912.01 918.33 921.16 927.47" y="622.5" font-size="11.7" fill="#333" stroke="#333" stroke-width="0.18">15,46</text>
<text transform="scale(0.9,1)" x="959.89 965.53 968.06 973.69" y="654.3" font-size="11.7" fill="#333" stroke="#333" stroke-width="0.18">2,74</text>
<text x="467.9" y="66.9" font-size="16.2" fill="#3a3a3a" textLength="89.4" lengthAdjust="spacingAndGlyphs">Вид во двор</text>
<text x="403.8" y="701.3" font-size="16.6" fill="#3a3a3a" textLength="215.7" lengthAdjust="spacingAndGlyphs">Вид на пешеходный бульвар</text>
</g>
</svg>
</body></html>
